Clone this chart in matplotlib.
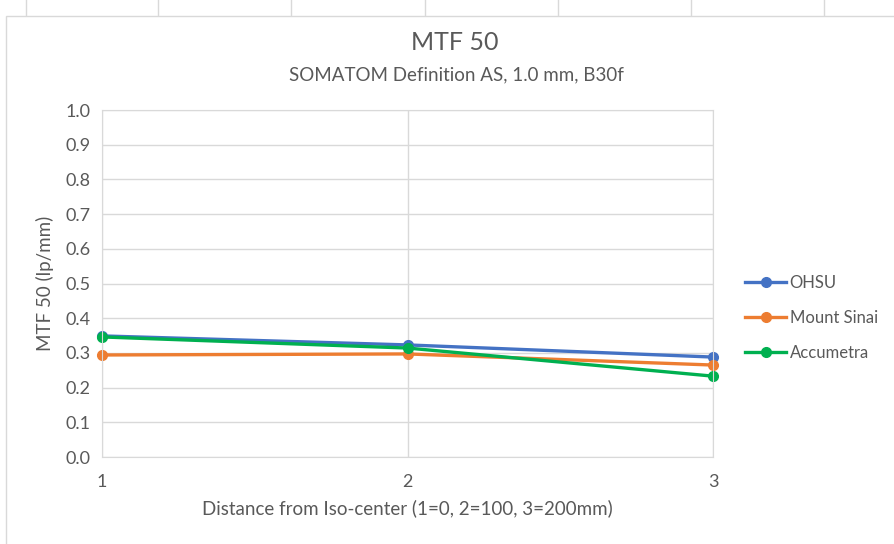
import matplotlib.pyplot as plt
from matplotlib.lines import Line2D
from matplotlib.patches import Rectangle

plt.rcParams['font.family'] = ['Lato', 'DejaVu Sans']

# data
distance = [1, 2, 3]
ohsu = [0.349, 0.323, 0.288]
mount_sinai = [0.294, 0.297, 0.265]
accumetra = [0.346, 0.314, 0.233]
y_ticks = [0.0, 0.1, 0.2, 0.3, 0.4, 0.5, 0.6, 0.7, 0.8, 0.9, 1.0]

fig = plt.figure(figsize=(8.94, 5.44), dpi=100)
W, H = 894, 544

# spreadsheet cell lines peeking above the chart
for xc in [26, 158, 291, 425, 558, 691, 824]:
    fig.add_artist(Line2D([xc / W, xc / W], [1, 1 - 16 / H], color='#d9d9d9', lw=1, zorder=-20))
fig.add_artist(Rectangle((6 / W, -0.01), 1.0, 1 - 16 / H + 0.01, transform=fig.transFigure,
                         facecolor='white', edgecolor='#d9d9d9', lw=1, zorder=-10))

ax = fig.add_axes([102 / W, 1 - 457 / H, (713 - 102) / W, (457 - 110) / H])
ax.patch.set_alpha(0)

grey = '#595959'
ax.plot(distance, ohsu, color='#4472c4', lw=2.4, marker='o', ms=7, label='OHSU', clip_on=False)
ax.plot(distance, mount_sinai, color='#ed7d31', lw=2.4, marker='o', ms=7, label='Mount Sinai', clip_on=False)
ax.plot(distance, accumetra, color='#00b050', lw=2.4, marker='o', ms=7, label='Accumetra', clip_on=False)

ax.set_xlim(1, 3)
ax.set_ylim(0, 1.0)
ax.set_xticks(distance)
ax.set_yticks(y_ticks)
ax.set_yticklabels([f'{v:.1f}' for v in y_ticks])
ax.tick_params(length=0, labelsize=13, colors=grey)
ax.tick_params(axis='x', pad=12)
ax.tick_params(axis='y', pad=8)
ax.grid(True, color='#d9d9d9', lw=1)
ax.set_axisbelow(True)
for s in ax.spines.values():
    s.set_color('#d9d9d9')

ax.set_xlabel('Distance from Iso-center (1=0, 2=100, 3=200mm)', fontsize=13.5, color=grey, labelpad=7)
ax.set_ylabel('MTF 50 (lp/mm)', fontsize=13.5, color=grey, va='center')
ax.yaxis.set_label_coords((45 - 102) / 611, 0.5)

fig.text(455 / W, 1 - 42 / H, 'MTF 50', ha='center', va='center', fontsize=18, color=grey)
fig.text(456 / W, 1 - 75 / H, 'SOMATOM Definition AS, 1.0 mm, B30f', ha='center', va='center',
         fontsize=13.5, color=grey)

ax.legend(loc='center left', bbox_to_anchor=(738 / W, 1 - 318 / H), bbox_transform=fig.transFigure,
          frameon=False, fontsize=12, labelcolor=grey, handlelength=2.5, handletextpad=0.2,
          labelspacing=1.15, borderaxespad=0)

fig.savefig('out.png', dpi=100)
